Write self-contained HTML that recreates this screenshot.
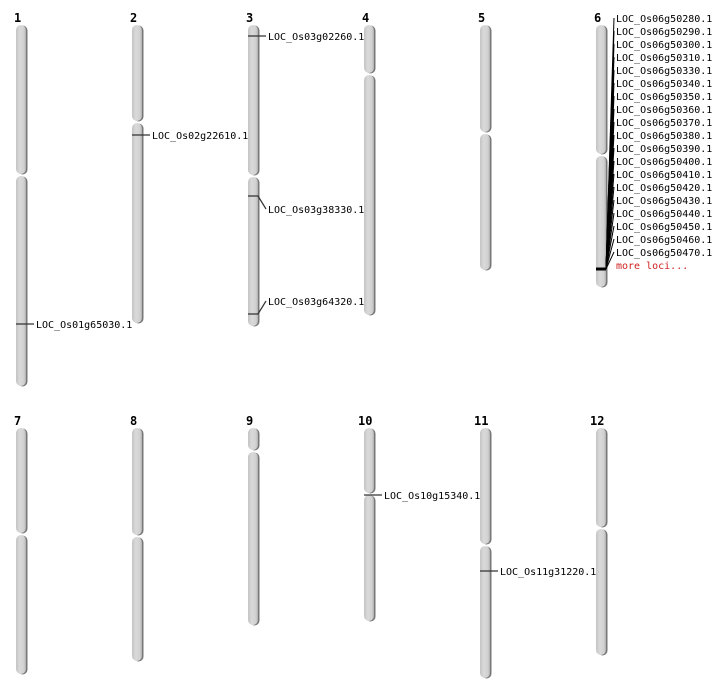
<!DOCTYPE html>
<html><head><meta charset="utf-8"><style>
html,body{margin:0;padding:0;background:#fff;}
svg{display:block}
text{font-family:"DejaVu Sans Mono","Liberation Mono",monospace;font-size:10px;fill:#000}
.n{font-family:"DejaVu Sans Mono","Liberation Mono",monospace;font-weight:bold;font-size:12px}
</style></head><body>
<svg id="s" width="712" height="700" xmlns="http://www.w3.org/2000/svg">
<defs>
<linearGradient id="g" x1="0" x2="1" y1="0" y2="0">
<stop offset="0" stop-color="#c4c4c4"/><stop offset="0.4" stop-color="#dadada"/><stop offset="0.8" stop-color="#d0d0d0"/><stop offset="1" stop-color="#b0b0b0"/>
</linearGradient>
</defs>
<g id="chr"></g>
<text class="n" x="14" y="22">1</text>
<text class="n" x="130" y="22">2</text>
<text class="n" x="246" y="22">3</text>
<text class="n" x="362" y="22">4</text>
<text class="n" x="478" y="22">5</text>
<text class="n" x="594" y="22">6</text>
<text class="n" x="14" y="425">7</text>
<text class="n" x="130" y="425">8</text>
<text class="n" x="246" y="425">9</text>
<text class="n" x="358" y="425">10</text>
<text class="n" x="474" y="425">11</text>
<text class="n" x="590" y="425">12</text>
<g stroke="#333" stroke-width="1.2" fill="none">
<path d="M16 324H34"/>
<path d="M132 135H150"/>
<path d="M248 36H266"/>
<path d="M248 196H258L266 209"/>
<path d="M248 314H258L266 301"/>
<path d="M364 495H382"/>
<path d="M480 571H498"/>
</g>
<text x="36" y="328">LOC_Os01g65030.1</text>
<text x="152" y="139">LOC_Os02g22610.1</text>
<text x="268" y="40">LOC_Os03g02260.1</text>
<text x="268" y="213">LOC_Os03g38330.1</text>
<text x="268" y="305">LOC_Os03g64320.1</text>
<text x="384" y="499">LOC_Os10g15340.1</text>
<text x="500" y="575">LOC_Os11g31220.1</text>
<g id="fan" stroke="#000" stroke-width="1" fill="none"></g>
<path d="M596 269H606" stroke="#000" stroke-width="3"/>
<text x="616" y="22">LOC_Os06g50280.1</text>
<text x="616" y="35">LOC_Os06g50290.1</text>
<text x="616" y="48">LOC_Os06g50300.1</text>
<text x="616" y="61">LOC_Os06g50310.1</text>
<text x="616" y="74">LOC_Os06g50330.1</text>
<text x="616" y="87">LOC_Os06g50340.1</text>
<text x="616" y="100">LOC_Os06g50350.1</text>
<text x="616" y="113">LOC_Os06g50360.1</text>
<text x="616" y="126">LOC_Os06g50370.1</text>
<text x="616" y="139">LOC_Os06g50380.1</text>
<text x="616" y="152">LOC_Os06g50390.1</text>
<text x="616" y="165">LOC_Os06g50400.1</text>
<text x="616" y="178">LOC_Os06g50410.1</text>
<text x="616" y="191">LOC_Os06g50420.1</text>
<text x="616" y="204">LOC_Os06g50430.1</text>
<text x="616" y="217">LOC_Os06g50440.1</text>
<text x="616" y="230">LOC_Os06g50450.1</text>
<text x="616" y="243">LOC_Os06g50460.1</text>
<text x="616" y="256">LOC_Os06g50470.1</text>
<text x="616" y="269" style="fill:#d02020">more loci...</text>
</svg>
<script>
var C=[[21,25,175,386],[137,25,122,323],[253,25,176,326],[369,25,74,315],[485,25,133,270],[601,25,155,287],
[21,428,534,674],[137,428,536,661],[253,428,451,625],[369,428,494,621],[485,428,545,678],[601,428,528,655]];
var ns="http://www.w3.org/2000/svg",g=document.getElementById("chr");
function r(x,y,w,h,f){var e=document.createElementNS(ns,"rect");e.setAttribute("x",x);e.setAttribute("y",y);e.setAttribute("width",w);e.setAttribute("height",h);e.setAttribute("rx",5);e.setAttribute("fill",f);g.appendChild(e);}
C.forEach(function(c){var x=c[0]-5;
[[c[1],c[2]-1],[c[2]+1,c[3]]].forEach(function(s){r(x+1.5,s[0]+0.5,10,s[1]-s[0],"#777");r(x,s[0],10,s[1]-s[0],"url(#g)");});});
var f=document.getElementById("fan");
for(var i=0;i<19;i++){var p=document.createElementNS(ns,"path");p.setAttribute("d","M606 269L614 "+(18+13*i));f.appendChild(p);}
</script>
</body></html>
